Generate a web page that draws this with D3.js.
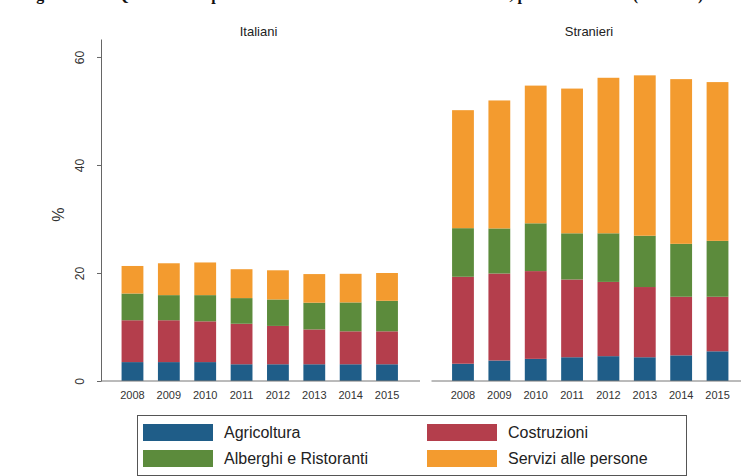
<!DOCTYPE html>
<html>
<head>
<meta charset="utf-8">
<script src="https://cdn.jsdelivr.net/npm/d3@7"></script>
<style>
  html, body { margin: 0; padding: 0; background: #fff; }
  svg { display: block; }
</style>
</head>
<body>
<svg id="chart" width="741" height="476"></svg>
<script>
// ---- Data ----
const years = ["2008","2009","2010","2011","2012","2013","2014","2015"];
const sectors = ["Agricoltura","Costruzioni","Alberghi e Ristoranti","Servizi alle persone"];
const panels = ["Italiani","Stranieri"];
const yTicks = [0, 20, 40, 60];

// Italiani (%)
const italianiAgricoltura = [3.5, 3.5, 3.5, 3.1, 3.1, 3.1, 3.1, 3.1];
const italianiCostruzioni = [7.75, 7.75, 7.55, 7.5, 7.1, 6.45, 6.1, 6.1];
const italianiAlberghi    = [4.95, 4.65, 4.85, 4.75, 4.9, 4.95, 5.35, 5.65];
const italianiServizi     = [5.1, 5.9, 6.05, 5.35, 5.4, 5.3, 5.3, 5.15];

// Stranieri (%)
const stranieriAgricoltura = [3.2, 3.8, 4.1, 4.4, 4.6, 4.4, 4.75, 5.5];
const stranieriCostruzioni = [16.1, 16.1, 16.25, 14.4, 13.75, 13.0, 10.85, 10.1];
const stranieriAlberghi    = [9.0, 8.35, 8.85, 8.55, 9.0, 9.5, 9.8, 10.35];
const stranieriServizi     = [21.85, 23.7, 25.5, 26.8, 28.8, 29.7, 30.5, 29.4];

const colors = ["#1f5d88", "#b43e4c", "#5c8b3c", "#f39b2f"];

// ---- Build tables ----
function table(a, b, c, d) {
  return years.map((yr, i) => ({
    year: yr,
    "Agricoltura": a[i],
    "Costruzioni": b[i],
    "Alberghi e Ristoranti": c[i],
    "Servizi alle persone": d[i]
  }));
}
const tables = {
  "Italiani": table(italianiAgricoltura, italianiCostruzioni, italianiAlberghi, italianiServizi),
  "Stranieri": table(stranieriAgricoltura, stranieriCostruzioni, stranieriAlberghi, stranieriServizi)
};

const svg = d3.select("#chart");
svg.append("rect").attr("width", 741).attr("height", 476).attr("fill", "#fff");

// Cropped caption line at the very top (as in the reference)
svg.append("text")
  .attr("x", 22).attr("y", 0)
  .attr("font-family", "'Liberation Serif', 'Times New Roman', serif")
  .attr("font-size", 16).attr("font-weight", "bold").attr("fill", "#111")
  .text("Figura 3.12 – Quota di occupati nei settori ad alta incidenza di stranieri, per cittadinanza (valori %)");

// ---- Scales ----
const y = d3.scaleLinear().domain([0, 63.33]).range([381, 39]);
const color = d3.scaleOrdinal().domain(sectors).range(colors);
const stack = d3.stack().keys(sectors);

const panelX0 = { "Italiani": 101, "Stranieri": 431.5 };
const panelW = 319;
const fontSans = "'Liberation Sans', Arial, Helvetica, sans-serif";

panels.forEach(p => {
  const x0 = panelX0[p];
  const x = d3.scaleBand().domain(years)
    .range([x0 + 13.3, x0 + 13.3 + 290.9])
    .paddingInner(0.4).paddingOuter(0.2);

  const g = svg.append("g");

  // Panel title
  g.append("text")
    .attr("x", x0 + panelW / 2 - 2).attr("y", 36)
    .attr("text-anchor", "middle")
    .attr("font-family", fontSans).attr("font-size", 13).attr("fill", "#222")
    .text(p);

  // Bars
  const series = stack(tables[p]);
  g.selectAll("g.layer").data(series).join("g")
    .attr("class", "layer")
    .attr("fill", d => color(d.key))
    .selectAll("rect").data(d => d).join("rect")
      .attr("x", d => x(d.data.year))
      .attr("width", x.bandwidth())
      .attr("y", d => y(d[1]))
      .attr("height", d => y(d[0]) - y(d[1]));

  // Baseline
  g.append("line")
    .attr("x1", x0).attr("x2", Math.min(x0 + panelW, 741))
    .attr("y1", y(0)).attr("y2", y(0))
    .attr("stroke", "#777").attr("stroke-width", 1);

  // Year labels
  const xa = g.append("g").attr("transform", `translate(0,${y(0)})`)
    .call(d3.axisBottom(x).tickSize(0).tickPadding(10));
  xa.select(".domain").remove();
  xa.selectAll("text")
    .attr("font-family", fontSans).attr("font-size", 11).attr("fill", "#333");
});

// ---- Y axis ----
const ya = svg.append("g").attr("transform", "translate(101,0)")
  .call(d3.axisLeft(y).tickValues(yTicks).tickSize(4).tickSizeOuter(0));
ya.select(".domain").attr("stroke", "#666");
ya.selectAll(".tick line").attr("stroke", "#666");
ya.selectAll(".tick text")
  .attr("transform", "rotate(-90)")
  .attr("x", 0).attr("y", -17).attr("dy", 0)
  .attr("text-anchor", "middle")
  .attr("font-family", fontSans).attr("font-size", 12).attr("fill", "#333");

svg.append("text")
  .attr("transform", `translate(64,${y(30.8)}) rotate(-90)`)
  .attr("text-anchor", "middle")
  .attr("font-family", fontSans).attr("font-size", 16).attr("fill", "#333")
  .text("%");

// ---- Legend ----
const lg = svg.append("g");
lg.append("rect")
  .attr("x", 137.5).attr("y", 415.5).attr("width", 549).attr("height", 60)
  .attr("fill", "#fff").attr("stroke", "#555").attr("stroke-width", 1);

const legendCols = [143, 427];
const legendRows = [424, 450];
const item = lg.selectAll("g.item").data(sectors).join("g")
  .attr("class", "item")
  .attr("transform", (d, i) => `translate(${legendCols[i % 2]},${legendRows[Math.floor(i / 2)]})`);
item.append("rect").attr("width", 70).attr("height", 17).attr("fill", d => color(d));
item.append("text")
  .attr("x", 81).attr("y", 14)
  .attr("font-family", fontSans).attr("font-size", 16).attr("fill", "#222")
  .text(d => d);
</script>
</body>
</html>
